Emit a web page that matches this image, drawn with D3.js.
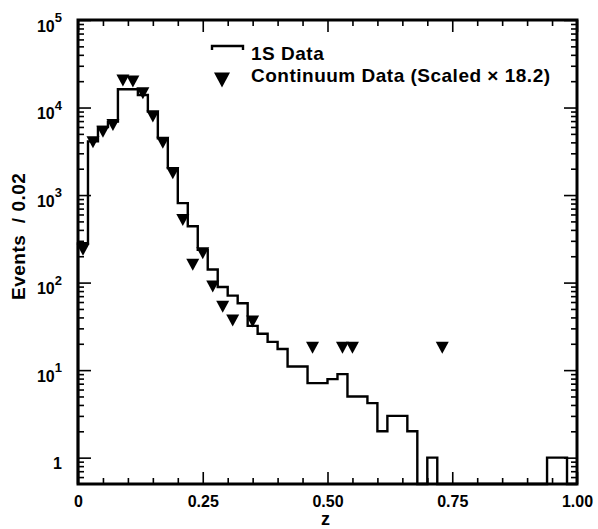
<!DOCTYPE html>
<html>
<head>
<meta charset="utf-8">
<script src="https://cdn.jsdelivr.net/npm/d3@7"></script>
<style>
    body { margin: 0; background: #fff; }
    svg text { font-family: "Liberation Sans", Arial, Helvetica, sans-serif; font-weight: bold; fill: #000; }
</style>
</head>
<body>
<div id="chart"></div>
<script>
// 1S data histogram, bins of width 0.02 starting at z = 0
const binWidth = 0.02;
const histCounts = [
    282, 4100, 6000, 6900, 16200, 16200, 13900, 8980, 4460, 2030,
    808, 440, 237, 141, 89, 71, 58, 32, 26, 21,
    17.4, 11, 11, 7.1, 7.1, 7.9, 9, 5, 5, 4.2,
    2, 3, 3, 2, 0, 1, 0, 0, 0, 0,
    0, 0, 0, 0, 0, 0, 0, 1, 1, 0
];

// continuum data (scaled x 18.2), bin centres
const contZ = [0.01, 0.03, 0.05, 0.07, 0.09, 0.11, 0.13, 0.15, 0.17, 0.19, 0.21,
    0.23, 0.25, 0.27, 0.29, 0.31, 0.35, 0.47, 0.53, 0.55, 0.73];
const contCounts = [237, 4000, 5300, 6300, 20300, 19800, 14600, 7900, 3950, 1780, 520,
    160, 217, 90, 53, 37, 36, 18, 18, 18, 18];

const xTickMajor = [0, 0.25, 0.5, 0.75, 1.0];
const xTickLabels = ["0", "0.25", "0.50", "0.75", "1.00"];
const xTickMinor = [0.05, 0.1, 0.15, 0.2, 0.3, 0.35, 0.4, 0.45, 0.55, 0.6, 0.65, 0.7, 0.8, 0.85, 0.9, 0.95];
const yTickMajor = [1, 10, 100, 1000, 10000, 100000];
const yTickExp = ["", "1", "2", "3", "4", "5"];

const margin = { top: 20, right: 21, bottom: 45, left: 78 };
const width = 598 - margin.left - margin.right;
const height = 529 - margin.top - margin.bottom;
const yMin = 0.5;

const svg = d3.select("#chart").append("svg")
    .attr("width", 598)
    .attr("height", 529);
const g = svg.append("g")
    .attr("transform", `translate(${margin.left},${margin.top})`);

const x = d3.scaleLinear().domain([0, 1]).range([0, width]);
const y = d3.scaleLog().domain([yMin, 1e5]).range([height, 0]);

// minor y ticks: 2..9 in every decade, plus 0.6-0.9 under 1
let yTickMinor = [0.6, 0.7, 0.8, 0.9];
[1, 10, 100, 1000, 10000].forEach(dec => {
    for (let k = 2; k <= 9; k++) yTickMinor.push(k * dec);
});

// axes, ticks pointing inward on all four sides
function styleAxis(sel) {
    sel.select(".domain").remove();
    sel.selectAll(".tick line").attr("stroke", "#000").attr("stroke-width", 1.6);
}

g.append("g")
    .attr("transform", `translate(0,${height})`)
    .call(d3.axisBottom(x).tickValues(xTickMajor).tickSizeInner(-12).tickSizeOuter(0)
        .tickPadding(12).tickFormat((d, i) => xTickLabels[i]))
    .call(styleAxis)
    .call(a => a.selectAll("text").style("font-size", "16px"));
g.append("g")
    .attr("transform", `translate(0,${height})`)
    .call(d3.axisBottom(x).tickValues(xTickMinor).tickSizeInner(-6).tickSizeOuter(0).tickFormat(""))
    .call(styleAxis);
g.append("g")
    .call(d3.axisTop(x).tickValues(xTickMajor).tickSizeInner(-12).tickSizeOuter(0).tickFormat(""))
    .call(styleAxis);
g.append("g")
    .call(d3.axisTop(x).tickValues(xTickMinor).tickSizeInner(-6).tickSizeOuter(0).tickFormat(""))
    .call(styleAxis);

g.append("g")
    .call(d3.axisLeft(y).tickValues(yTickMajor).tickSizeInner(-13).tickSizeOuter(0).tickFormat(""))
    .call(styleAxis);
g.append("g")
    .call(d3.axisLeft(y).tickValues(yTickMinor).tickSizeInner(-6).tickSizeOuter(0).tickFormat(""))
    .call(styleAxis);
g.append("g")
    .attr("transform", `translate(${width},0)`)
    .call(d3.axisRight(y).tickValues(yTickMajor).tickSizeInner(-13).tickSizeOuter(0).tickFormat(""))
    .call(styleAxis);
g.append("g")
    .attr("transform", `translate(${width},0)`)
    .call(d3.axisRight(y).tickValues(yTickMinor).tickSizeInner(-6).tickSizeOuter(0).tickFormat(""))
    .call(styleAxis);

// y tick labels with superscript exponents
const yLabels = g.append("g").selectAll("text")
    .data(yTickMajor)
    .join("text")
    .attr("x", -16)
    .attr("y", d => y(d) + 11.8)
    .attr("text-anchor", "end")
    .style("font-size", "16px");
yLabels.each(function (d, i) {
    const t = d3.select(this);
    if (yTickExp[i] === "") {
        t.text("1");
    } else {
        t.append("tspan").text("10");
        t.append("tspan").attr("dy", -9.5).style("font-size", "13px").text(yTickExp[i]);
    }
});

// histogram as a step line
let steps = [[0, yMin]];
histCounts.forEach((v, i) => {
    const v2 = Math.max(v, yMin);
    steps.push([i * binWidth, v2]);
    steps.push([(i + 1) * binWidth, v2]);
});
steps.push([1, yMin]);

const line = d3.line()
    .x(d => x(d[0]))
    .y(d => y(d[1]));

g.append("path")
    .datum(steps)
    .attr("d", line)
    .attr("fill", "none")
    .attr("stroke", "#000")
    .attr("stroke-width", 2.4)
    .attr("stroke-linejoin", "miter");

// continuum points as down-pointing triangles
function downTriangle(cx, cy, w, h) {
    return `M${cx - w / 2},${cy - h / 2}L${cx + w / 2},${cy - h / 2}L${cx},${cy + h / 2}Z`;
}
g.append("g").selectAll("path")
    .data(contZ.map((z, i) => ({ z: z, v: contCounts[i] })))
    .join("path")
    .attr("d", d => downTriangle(x(d.z), y(d.v), 13, 12))
    .attr("fill", "#000");

// frame
g.append("rect")
    .attr("width", width)
    .attr("height", height)
    .attr("fill", "none")
    .attr("stroke", "#000")
    .attr("stroke-width", 3);

// legend
svg.append("path")
    .attr("d", "M212,50V46H243V50")
    .attr("fill", "none")
    .attr("stroke", "#000")
    .attr("stroke-width", 2.4);
svg.append("text")
    .attr("x", 251)
    .attr("y", 59.5)
    .style("font-size", "19px")
    .style("letter-spacing", "0.5px")
    .text("1S Data");
svg.append("path")
    .attr("d", downTriangle(222, 80, 16, 15))
    .attr("fill", "#000");
svg.append("text")
    .attr("x", 251)
    .attr("y", 82)
    .style("font-size", "19px")
    .style("letter-spacing", "0.5px")
    .text("Continuum Data (Scaled \u00d7 18.2)");

// axis titles
svg.append("text")
    .attr("x", margin.left + width / 2 - 2)
    .attr("y", 525)
    .attr("text-anchor", "middle")
    .style("font-size", "18px")
    .text("z");
svg.append("text")
    .attr("transform", "translate(25,300) rotate(-90)")
    .style("font-size", "19px")
    .style("letter-spacing", "0.5px")
    .attr("xml:space", "preserve")
    .text("Events  / 0.02");
</script>
</body>
</html>
